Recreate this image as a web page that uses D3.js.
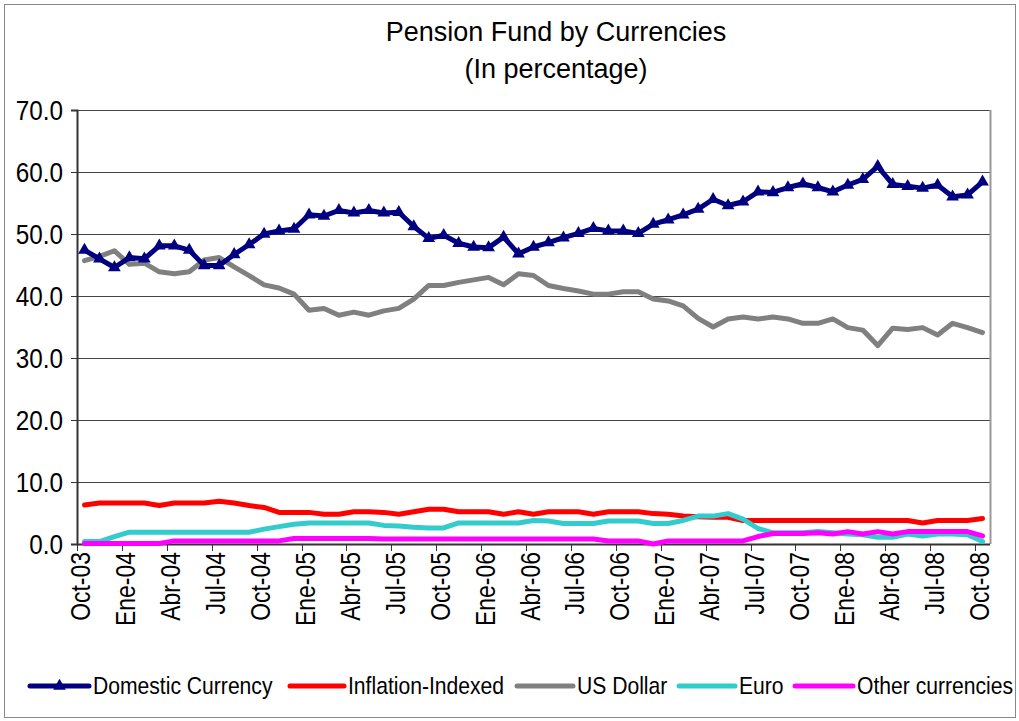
<!DOCTYPE html>
<html lang="en">
<head>
  <meta charset="UTF-8">
  <title>Pension Fund by Currencies</title>
  <script src="https://d3js.org/d3.v7.min.js"></script>
  <style>
    body { margin: 0; background: #fff; }
    text { font-family: "Liberation Sans", Arial, sans-serif; fill: #000; }
    .grid line { stroke: #444; stroke-width: 1; }
    .series { fill: none; stroke-width: 5; stroke-linejoin: round; stroke-linecap: round; }
  </style>
</head>
<body>
  <svg id="chart" width="1019" height="721"></svg>
  <script>
    // month names used on the category axis (Spanish abbreviations)
    const monthNames = ['Ene', 'Feb', 'Mar', 'Abr', 'May', 'Jun', 'Jul', 'Ago', 'Sep', 'Oct', 'Nov', 'Dic'];
    // Oct-03 .. Oct-08, one category per month
    const categories = [];
    for (let i = 0; i < 61; i++) {
      const m = (9 + i) % 12;
      const y = 3 + Math.floor((9 + i) / 12);
      categories.push(monthNames[m] + '-' + String(y).padStart(2, '0'));
    }

    const domestic = [47.4, 46.0, 44.6, 46.2, 46.0, 48.1, 48.1, 47.4, 44.9, 44.9,
      46.7, 48.3, 50.0, 50.5, 50.8, 53.1, 52.9, 53.8, 53.4, 53.8,
      53.4, 53.5, 51.2, 49.3, 49.8, 48.5, 47.9, 47.8, 49.5, 46.8,
      47.9, 48.6, 49.4, 50.1, 50.9, 50.5, 50.5, 50.1, 51.6, 52.3,
      53.1, 54.0, 55.6, 54.6, 55.2, 56.8, 56.7, 57.5, 58.1, 57.5,
      56.8, 57.9, 58.8, 60.9, 58.0, 57.7, 57.4, 57.9, 56.0, 56.3, 58.4];

    const inflation = [6.3, 6.6, 6.6, 6.6, 6.6, 6.2, 6.6, 6.6, 6.6, 6.9,
      6.6, 6.2, 5.9, 5.1, 5.1, 5.1, 4.8, 4.8, 5.2, 5.2,
      5.1, 4.8, 5.2, 5.6, 5.6, 5.2, 5.2, 5.2, 4.8, 5.2,
      4.8, 5.2, 5.2, 5.2, 4.8, 5.2, 5.2, 5.2, 4.9, 4.8,
      4.5, 4.4, 4.3, 4.3, 3.8, 3.8, 3.8, 3.8, 3.8, 3.8,
      3.8, 3.8, 3.8, 3.8, 3.8, 3.8, 3.4, 3.8, 3.8, 3.8, 4.1];

    const usDollar = [45.7, 46.4, 47.3, 45.1, 45.3, 43.9, 43.6, 43.9, 45.8, 46.2,
      44.7, 43.3, 41.8, 41.3, 40.3, 37.7, 38.0, 36.9, 37.4, 36.9,
      37.6, 38.0, 39.5, 41.7, 41.7, 42.2, 42.6, 43.0, 41.8, 43.6,
      43.3, 41.7, 41.2, 40.8, 40.3, 40.3, 40.7, 40.7, 39.5, 39.2,
      38.4, 36.4, 35.0, 36.3, 36.6, 36.3, 36.6, 36.3, 35.6, 35.6,
      36.3, 34.9, 34.5, 32.0, 34.8, 34.6, 34.9, 33.7, 35.6, 34.9, 34.1];

    const euro = [0.4, 0.4, 1.2, 1.9, 1.9, 1.9, 1.9, 1.9, 1.9, 1.9,
      1.9, 1.9, 2.4, 2.8, 3.2, 3.4, 3.4, 3.4, 3.4, 3.4,
      3.0, 2.9, 2.7, 2.6, 2.6, 3.4, 3.4, 3.4, 3.4, 3.4,
      3.8, 3.7, 3.3, 3.3, 3.3, 3.7, 3.7, 3.7, 3.3, 3.3,
      3.8, 4.5, 4.5, 4.9, 4.0, 2.5, 1.8, 1.8, 1.8, 2.0,
      1.8, 1.6, 1.5, 1.1, 1.1, 1.6, 1.3, 1.6, 1.6, 1.5, 0.4];

    const other = [0.1, 0.1, 0.1, 0.1, 0.1, 0.1, 0.5, 0.5, 0.5, 0.5,
      0.5, 0.5, 0.5, 0.5, 0.9, 0.9, 0.9, 0.9, 0.9, 0.9,
      0.8, 0.8, 0.8, 0.8, 0.8, 0.8, 0.8, 0.8, 0.8, 0.8,
      0.8, 0.8, 0.8, 0.8, 0.8, 0.5, 0.5, 0.5, 0.0, 0.5,
      0.5, 0.5, 0.5, 0.5, 0.5, 1.2, 1.7, 1.7, 1.7, 1.8,
      1.6, 2.0, 1.6, 2.0, 1.6, 2.0, 2.0, 2.0, 2.0, 2.0, 1.3];

    const yTicks = [0, 10, 20, 30, 40, 50, 60, 70];

    const series = [
      { name: 'Domestic Currency', values: domestic, color: '#000080', marker: true },
      { name: 'Inflation-Indexed', values: inflation, color: '#ff0000' },
      { name: 'US Dollar', values: usDollar, color: '#808080' },
      { name: 'Euro', values: euro, color: '#33cccc' },
      { name: 'Other currencies', values: other, color: '#ff00ff' }
    ];
    // draw order: domestic on top, as in the reference
    const drawOrder = [2, 1, 3, 4, 0];

    const svg = d3.select('#chart');

    // outer chart border
    svg.append('rect')
      .attr('x', 4.5).attr('y', 4.5)
      .attr('width', 1011).attr('height', 713)
      .attr('fill', 'none').attr('stroke', '#888');

    const plot = { left: 77, right: 990, top: 110, bottom: 544 };

    const x = d3.scaleBand()
      .domain(categories)
      .range([plot.left, plot.right])
      .padding(0);
    const cx = (c) => x(c) + x.bandwidth() / 2;

    const y = d3.scaleLinear()
      .domain([0, 70])
      .range([plot.bottom, plot.top]);

    // title
    svg.append('text')
      .attr('x', 556).attr('y', 41)
      .attr('text-anchor', 'middle')
      .style('font-size', '27px')
      .text('Pension Fund by Currencies');
    svg.append('text')
      .attr('x', 556).attr('y', 78)
      .attr('text-anchor', 'middle')
      .style('font-size', '27px')
      .text('(In percentage)');

    // gridlines
    svg.append('g')
      .attr('class', 'grid')
      .selectAll('line')
      .data(yTicks.filter((t) => t > 0))
      .enter()
      .append('line')
      .attr('x1', plot.left).attr('x2', plot.right)
      .attr('y1', (d) => Math.round(y(d)) + 0.5)
      .attr('y2', (d) => Math.round(y(d)) + 0.5);

    // plot frame (right side)
    svg.append('line')
      .attr('x1', plot.right + 0.5).attr('x2', plot.right + 0.5)
      .attr('y1', plot.top).attr('y2', plot.bottom)
      .attr('stroke', '#999').attr('stroke-width', 2);

    // y axis (labels drawn separately so they can be condensed)
    const yAxis = svg.append('g')
      .attr('transform', `translate(${plot.left},0)`)
      .call(d3.axisLeft(y).tickValues(yTicks).tickFormat('').tickSize(6));
    yAxis.select('.domain').attr('stroke', '#333').attr('stroke-width', 2);
    yAxis.selectAll('.tick line').attr('stroke', '#333');
    svg.append('g')
      .selectAll('text')
      .data(yTicks)
      .enter()
      .append('text')
      .attr('transform', (d) => `translate(63,${y(d)}) scale(0.9,1)`)
      .attr('dy', '0.36em')
      .attr('text-anchor', 'end')
      .style('font-size', '27px')
      .text(d3.format('.1f'));

    // x axis: ticks between categories, every third label
    const xAxisG = svg.append('g');
    xAxisG.append('line')
      .attr('x1', plot.left).attr('x2', plot.right)
      .attr('y1', plot.bottom + 0.5).attr('y2', plot.bottom + 0.5)
      .attr('stroke', '#333').attr('stroke-width', 2);
    const labelled = categories.filter((c, i) => i % 3 === 0);
    xAxisG.selectAll('line.tick')
      .data(labelled)
      .enter()
      .append('line')
      .attr('class', 'tick')
      .attr('x1', (d) => Math.round(x(d)) + 0.5).attr('x2', (d) => Math.round(x(d)) + 0.5)
      .attr('y1', plot.bottom).attr('y2', plot.bottom + 7)
      .attr('stroke', '#333');
    xAxisG.selectAll('text')
      .data(labelled)
      .enter()
      .append('text')
      .attr('transform', (d) => `translate(${cx(d) + 6},${plot.bottom + 8}) rotate(-90) scale(0.85,1)`)
      .attr('text-anchor', 'end')
      .style('font-size', '27px')
      .text((d) => d);

    // series lines
    const line = d3.line()
      .x((d, i) => cx(categories[i]))
      .y((d) => y(d));

    drawOrder.forEach((k) => {
      const s = series[k];
      svg.append('path')
        .datum(s.values)
        .attr('class', 'series')
        .attr('stroke', s.color)
        .attr('d', line);
      if (s.marker) {
        svg.append('g')
          .selectAll('path')
          .data(s.values)
          .enter()
          .append('path')
          .attr('transform', (d, i) => `translate(${cx(categories[i])},${y(d)})`)
          .attr('d', d3.symbol().type(d3.symbolTriangle).size(70))
          .attr('fill', s.color);
      }
    });

    // legend
    const legendItems = [
      { s: series[0], x0: 30, tx: 93 },
      { s: series[1], x0: 290, tx: 348 },
      { s: series[2], x0: 517, tx: 577 },
      { s: series[3], x0: 679, tx: 739 },
      { s: series[4], x0: 795, tx: 857 }
    ];
    const legend = svg.append('g');
    legendItems.forEach((it) => {
      legend.append('line')
        .attr('x1', it.x0).attr('x2', it.tx - 4)
        .attr('y1', 686).attr('y2', 686)
        .attr('stroke', it.s.color)
        .attr('stroke-width', 5)
        .attr('stroke-linecap', 'round');
      if (it.s.marker) {
        legend.append('path')
          .attr('transform', `translate(${(it.x0 + it.tx - 4) / 2},686)`)
          .attr('d', d3.symbol().type(d3.symbolTriangle).size(70))
          .attr('fill', it.s.color);
      }
      legend.append('text')
        .attr('transform', `translate(${it.tx},694) scale(0.88,1)`)
        .style('font-size', '24px')
        .text(it.s.name);
    });
  </script>
</body>
</html>
